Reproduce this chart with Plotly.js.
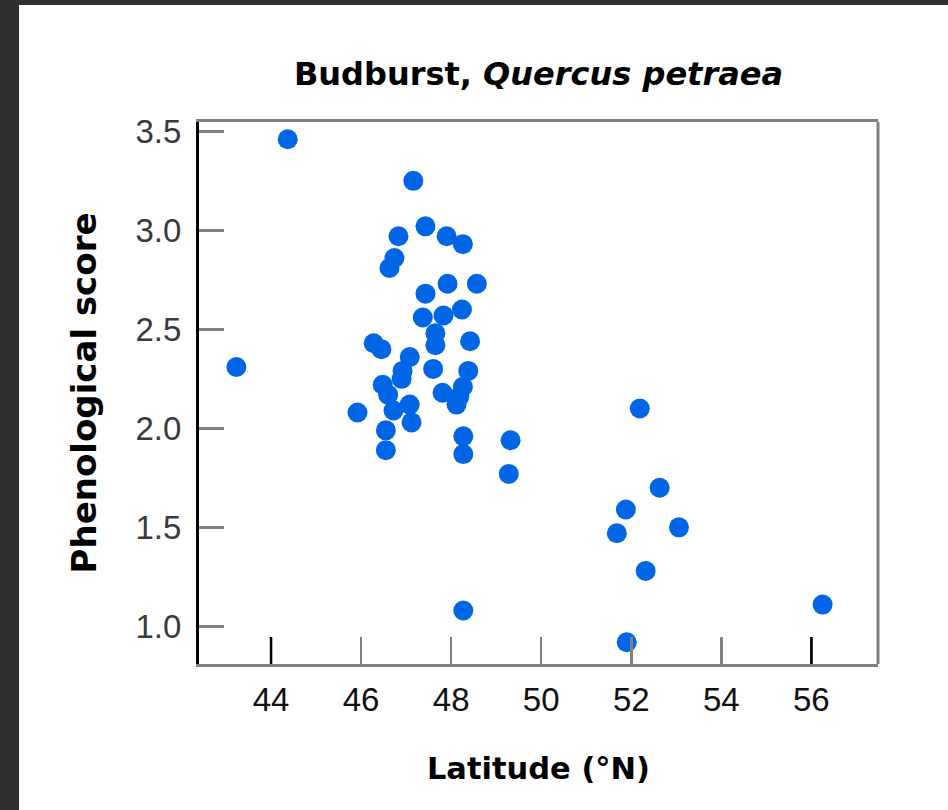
<!DOCTYPE html>
<html>
<head>
<meta charset="utf-8">
<script src="https://cdn.plot.ly/plotly-3.0.1.min.js"></script>
<style>
  html, body { margin: 0; padding: 0; background: #303030; width: 948px; height: 810px; overflow: hidden; }
  #chart { position: absolute; left: 19px; top: 5px; width: 929px; height: 805px; background: #ffffff; }
</style>
</head>
<body>
<div id="chart"></div>
<script>
// Latitude (°N) of each site
const latitude = [
  44.37, 43.23, 47.16, 47.43, 46.83, 47.90, 48.26, 46.74, 46.63, 47.92,
  48.57, 47.43, 47.37, 47.83, 48.24, 47.65, 47.65, 48.42, 46.28, 46.45,
  47.08, 46.92, 46.90, 47.60, 48.38, 46.48, 47.81, 48.18, 48.26, 48.12,
  45.92, 46.60, 46.72, 47.08, 47.12, 46.55, 46.55, 48.27, 48.27, 48.27,
  49.32, 49.28, 52.19, 51.88, 51.68, 52.63, 53.06, 52.32, 51.90, 56.25
];
// Phenological score (budburst) of each site
const score = [
  3.46, 2.31, 3.25, 3.02, 2.97, 2.97, 2.93, 2.86, 2.81, 2.73,
  2.73, 2.68, 2.56, 2.57, 2.60, 2.48, 2.42, 2.44, 2.43, 2.40,
  2.36, 2.29, 2.25, 2.30, 2.29, 2.22, 2.18, 2.16, 2.21, 2.12,
  2.08, 2.17, 2.09, 2.12, 2.03, 1.99, 1.89, 1.96, 1.87, 1.08,
  1.94, 1.77, 2.10, 1.59, 1.47, 1.70, 1.50, 1.28, 0.92, 1.11
];
const xTicks = [44, 46, 48, 50, 52, 54, 56];
const yTicks = [1.0, 1.5, 2.0, 2.5, 3.0, 3.5];
const yTickLabels = ["1.0", "1.5", "2.0", "2.5", "3.0", "3.5"];
const blackXTicks = [44, 56];

const LABEL_FONT = "Liberation Sans, Arial, sans-serif";
const TITLE_FONT = "DejaVu Sans, sans-serif";

const trace = {
  x: latitude,
  y: score,
  type: "scatter",
  mode: "markers",
  marker: { color: "#0066e6", size: 20, line: { width: 0 } },
  hoverinfo: "x+y"
};

const shapes = [
  // right frame line
  { type: "line", xref: "paper", yref: "paper", x0: 1, x1: 1, y0: 0, y1: 1,
    line: { color: "#808080", width: 3 } }
];
blackXTicks.forEach(v => shapes.push({
  type: "line", xref: "x", yref: "paper", x0: v, x1: v, y0: 0, y1: 27 / 542,
  line: { color: "#000000", width: 2.5 }
}));

const layout = {
  width: 929,
  height: 805,
  paper_bgcolor: "#ffffff",
  plot_bgcolor: "#ffffff",
  margin: { l: 180, r: 70, t: 117, b: 146 },
  showlegend: false,
  font: { family: LABEL_FONT, color: "#000000" },
  title: {
    text: "<b>Budburst, <i>Quercus petraea</i></b>",
    font: { family: TITLE_FONT, size: 32, color: "#000000" },
    xref: "paper", x: 0.5, xanchor: "center",
    yref: "container", y: 1 - 69 / 805, yanchor: "middle"
  },
  xaxis: {
    range: [42.4, 57.48],
    tickvals: xTicks,
    ticktext: xTicks.map(String),
    ticks: "inside",
    ticklen: 27,
    tickwidth: 2.5,
    tickcolor: "#808080",
    ticklabelstandoff: 4,
    tickfont: { family: LABEL_FONT, size: 33, color: "#111111" },
    showgrid: false,
    zeroline: false,
    showline: true,
    linecolor: "#808080",
    linewidth: 3,
    mirror: true,
    title: {
      text: "<b>Latitude (°N)</b>",
      font: { family: TITLE_FONT, size: 30.5, color: "#000000" },
      standoff: 42
    }
  },
  yaxis: {
    range: [0.81, 3.547],
    tickvals: yTicks,
    ticktext: yTickLabels,
    ticks: "inside",
    ticklen: 25,
    tickwidth: 3,
    tickcolor: "#808080",
    ticklabelstandoff: 8,
    tickfont: { family: LABEL_FONT, size: 33, color: "#3a3a3a" },
    showgrid: false,
    zeroline: false,
    showline: true,
    linecolor: "#000000",
    linewidth: 3,
    mirror: false,
    title: {
      text: "<b>Phenological score</b>",
      font: { family: TITLE_FONT, size: 34, color: "#000000" },
      standoff: 29
    }
  },
  shapes: shapes
};

Plotly.newPlot("chart", [trace], layout, { displayModeBar: false, staticPlot: true });
</script>
</body>
</html>
